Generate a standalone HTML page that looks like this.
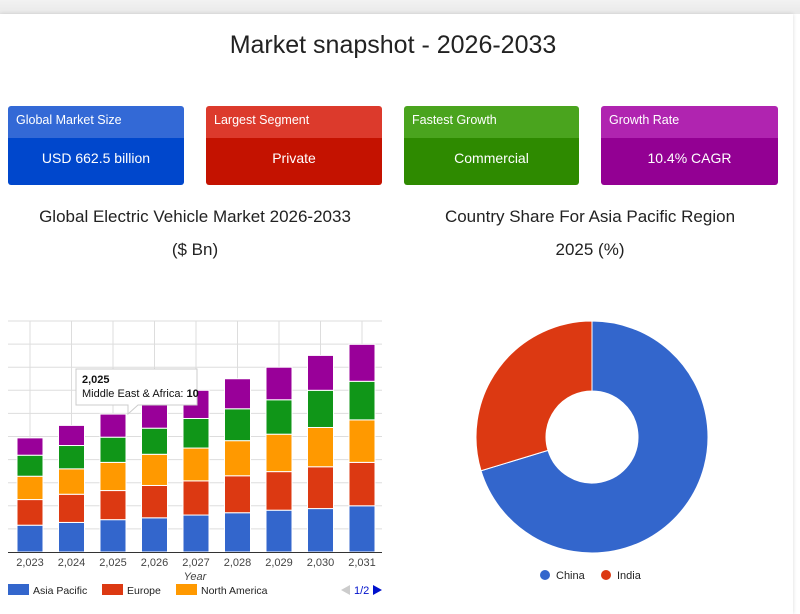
<!DOCTYPE html>
<html><head><meta charset="utf-8"><style>
body{margin:0;width:800px;height:610px;background:#fff;font-family:"Liberation Sans",sans-serif;overflow:hidden;position:relative}
.top{position:absolute;left:0;top:0;width:800px;height:14px;background:linear-gradient(#f2f2f2,#e9e9e9)}
.page{position:absolute;left:0;top:14px;width:793px;height:600px;background:#fff;box-shadow:0 0 4px rgba(0,0,0,.15)}
h1{position:absolute;left:0;width:786px;top:31px;margin:0;text-align:center;font-weight:normal;font-size:25px;color:#222}
.card{position:absolute;top:106px;width:176px;height:79px;border-radius:3px;overflow:hidden;color:#fff}
.card .h{height:32px;font-size:12.5px;line-height:28px;padding-left:8px}
.card .v{height:47px;font-size:14px;line-height:40px;text-align:center}
.t{position:absolute;text-align:center;font-size:17px;color:#222;line-height:33px}
</style></head><body>
<div class="top"></div>
<div class="page"></div>
<h1>Market snapshot - 2026-2033</h1>
<div class="card" style="left:8px"><div class="h" style="background:#3369d6">Global Market Size</div><div class="v" style="background:#0047cc">USD 662.5 billion</div></div>
<div class="card" style="left:206px"><div class="h" style="background:#dc3a2c">Largest Segment</div><div class="v" style="background:#c41200">Private</div></div>
<div class="card" style="left:404px;width:175px"><div class="h" style="background:#4aa41e">Fastest Growth</div><div class="v" style="background:#2e8a00">Commercial</div></div>
<div class="card" style="left:601px;width:177px"><div class="h" style="background:#b024b0">Growth Rate</div><div class="v" style="background:#930093">10.4% CAGR</div></div>
<div class="t" style="left:0;width:390px;top:200px">Global Electric Vehicle Market 2026-2033<br>($ Bn)</div>
<div class="t" style="left:395px;width:390px;top:200px">Country Share For Asia Pacific Region<br>2025 (%)</div>
<svg id="bar" width="400" height="610" style="position:absolute;left:0;top:0"></svg>
<svg id="pie" width="800" height="610" style="position:absolute;left:0;top:0;pointer-events:none"></svg>
<script>
const years=["2,023","2,024","2,025","2,026","2,027","2,028","2,029","2,030","2,031"];
const seriesNames=["Asia Pacific","Europe","North America","Latin America","Middle East & Africa"];
const asiaPacific=[11.6,12.8,14,14.8,16,17,18.1,18.8,20];
const europe=[11.1,12.2,12.6,14,14.8,16,16.7,18.1,18.8];
const northAmerica=[10.1,11,12.2,13.5,14.2,15.2,16.2,17,18.4];
const latinAmerica=[9.1,10.1,10.9,11.3,12.8,13.8,14.9,16.1,16.7];
const mea=[7.5,8.7,10,11,12.2,13,14.1,15.1,16];
const yTicks=[0,10,20,30,40,50,60,70,80,90,100];
const pieLabels=["China","India"];
const pieValues=[70.3,29.7];
const colors=["#3366cc","#dc3912","#ff9900","#109618","#990099"];
const NS="http://www.w3.org/2000/svg";
function mk(p,t,a){const e=document.createElementNS(NS,t);for(const k in a)e.setAttribute(k,a[k]);p.appendChild(e);return e;}
const bar=document.getElementById('bar');
const x0=8,x1=382,yb=552,yt=321;
const xs=i=>30+i*41.5;
const ys=v=>yb-(v/100)*(yb-yt);
yTicks.forEach(v=>{if(v===0)return;const l=mk(bar,'line',{x1:x0,x2:x1,y1:ys(v),y2:ys(v),stroke:'#ddd','stroke-width':1});

});
years.forEach((y,i)=>{const l=mk(bar,'line',{x1:xs(i),x2:xs(i),y1:yt,y2:yb,stroke:'#ddd'});

});
const all=[asiaPacific,europe,northAmerica,latinAmerica,mea];
years.forEach((y,i)=>{let acc=0;all.forEach((s,k)=>{const r=mk(bar,'rect',{x:xs(i)-13,width:26,y:ys(acc+s[i]),height:ys(acc)-ys(acc+s[i]),fill:colors[k],stroke:'#fff','stroke-width':1});


acc+=s[i];});
const t=mk(bar,'text',{x:xs(i),y:566,'text-anchor':'middle','font-size':11,fill:'#444'});t.textContent=y;

});
const base=mk(bar,'line',{x1:x0,x2:x1,y1:yb+0.5,y2:yb+0.5,stroke:'#333','stroke-width':1});


const yl=mk(bar,'text',{x:195,y:580,'text-anchor':'middle','font-size':11,'font-style':'italic',fill:'#444'});yl.textContent='Year';


[[8,"Asia Pacific"],[102,"Europe"],[176,"North America"]].forEach((e,k)=>{const r=mk(bar,'rect',{x:e[0],y:584,width:21,height:11,fill:colors[k]});


const t=mk(bar,'text',{x:e[0]+25,y:594,'font-size':10.5,fill:'#222'});t.textContent=e[1];

});
const pg=mk(bar,'g',{});
mk(pg,'path',{d:'M341 590 l9 -5 v10z',fill:'#ccc'});
const pt=mk(pg,'text',{x:354,y:594,'font-size':11,fill:'#0011cc'});pt.textContent='1/2';
mk(pg,'path',{d:'M382 590 l-9 -5 v10z',fill:'#0011cc'});
const tg=mk(bar,'g',{});
mk(tg,'path',{d:'M76 369 H197 V405 H138 L128 414 L128 405 H76 Z',fill:'#fff',stroke:'#ccc','stroke-width':1});
const t1=mk(tg,'text',{x:82,y:383,'font-size':11,'font-weight':'bold',fill:'#111'});t1.textContent='2,025';
const t2=mk(tg,'text',{x:82,y:397,'font-size':11,fill:'#111'});t2.innerHTML='Middle East &amp; Africa: <tspan font-weight="bold">10</tspan>';
const pie=document.getElementById('pie');
const cx=592,cy=437,R=116,r0=46;
const tot=pieValues.reduce((a,b)=>a+b,0);let a0=0;
pieValues.forEach((v,k)=>{const a1=a0+v/tot*2*Math.PI;const p=(a,rr)=>[cx+rr*Math.sin(a),cy-rr*Math.cos(a)];
const [ax,ay]=p(a0,R),[bx,by]=p(a1,R),[cx2,cy2]=p(a1,r0),[dx,dy]=p(a0,r0);const lg=(a1-a0)>Math.PI?1:0;
const s=mk(pie,'path',{d:`M${ax} ${ay} A${R} ${R} 0 ${lg} 1 ${bx} ${by} L${cx2} ${cy2} A${r0} ${r0} 0 ${lg} 0 ${dx} ${dy}Z`,fill:colors[k],stroke:'#fff','stroke-width':1});


a0=a1;});
[[545,0],[606,1]].forEach(e=>{mk(pie,'circle',{cx:e[0],cy:575,r:5,fill:colors[e[1]]});
const t=mk(pie,'text',{x:e[0]+11,y:579,'font-size':11,fill:'#222'});t.textContent=pieLabels[e[1]];

});
</script>
</body></html>
